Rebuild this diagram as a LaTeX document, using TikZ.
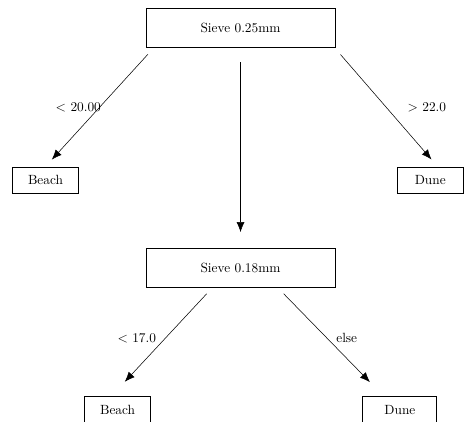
\documentclass[tikz,border=0pt]{standalone}
\usetikzlibrary{arrows.meta}

\begin{document}
\begin{tikzpicture}[
		font=\fontsize{10}{12}\selectfont,
		testbox/.style={rectangle,draw,line width=0.6pt,minimum width=4.98cm,minimum height=1.03cm},
		leafbox/.style={rectangle,draw,line width=0.6pt,minimum width=1.74cm,minimum height=0.71cm},
		edgelabel/.style={inner sep=1pt},
		>={Latex[length=7.5pt,width=6pt]}
		]
		\useasboundingbox (-6.34,-10.375) rectangle (5.89,0.725);
		\clip (-6.34,-10.375) rectangle (5.89,0.725);

		\node[testbox](T1){Sieve 0.25mm};
		\node[leafbox, below of = T1, xshift = -5.14cm, yshift = -3.03cm](T2){Beach};
		\node[leafbox, below of = T1, xshift = 5.00cm, yshift = -3.03cm](T3){Dune};
		\node[testbox, below of = T1, yshift = -5.34cm](T4){Sieve 0.18mm};
		\node[leafbox, below of = T4, xshift = -3.24cm, yshift = -2.75cm](T5){Beach};
		\node[leafbox, minimum width=1.95cm, below of = T4, xshift = 4.20cm, yshift = -2.75cm](T6){Dune};

		\draw[->, shorten <=7pt, shorten >=7pt] (T1.193) --(T2.north) node [midway, left, edgelabel,
		xshift = 2pt]{$<$ 20.00};
		\draw[->, shorten <=7pt, shorten >=7pt] (T1.348) --(T3.62) node [midway, right, edgelabel,
		xshift = 15pt]{$>$ 22.0};
		\draw[->, shorten <=11pt, shorten >=12pt] (T1.south) --(T4.north);
		\draw[->, shorten <=6pt, shorten >=15pt] (T4.215) --(T5.115) node [pos=0.46, left, edgelabel,
		xshift = -6pt]{$<$ 17.0};
		\draw[->, shorten <=6pt, shorten >=15pt] (T4.332) --(T6.139) node [pos=0.46, right, edgelabel,
		xshift = 6pt]{else};

	\end{tikzpicture}
\end{document}
